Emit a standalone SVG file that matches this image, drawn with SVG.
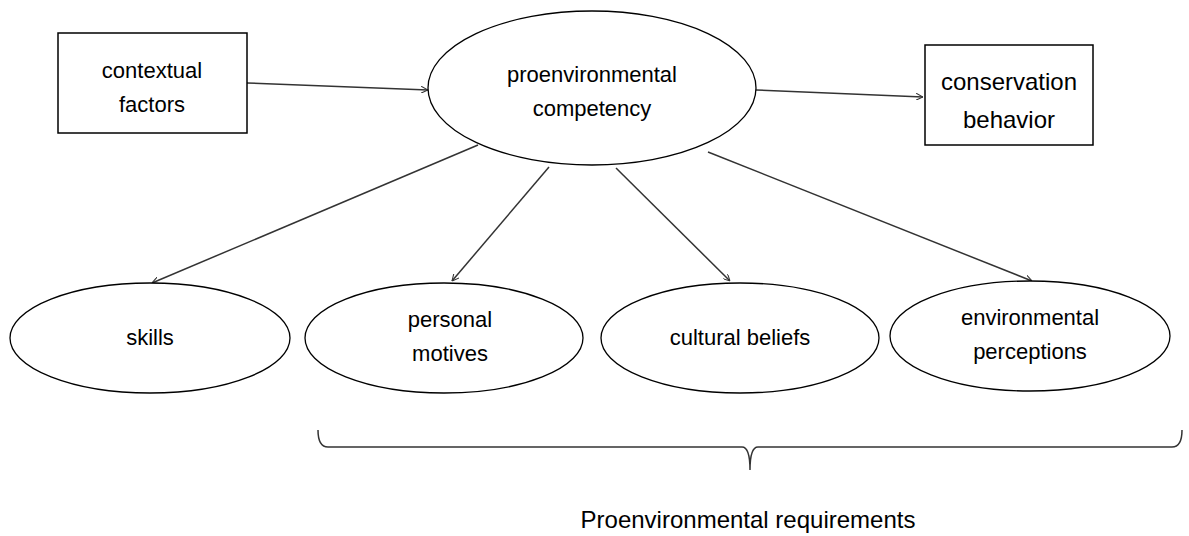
<svg xmlns="http://www.w3.org/2000/svg" width="1189" height="536" viewBox="0 0 1189 536">
<defs>
<style>
.box{fill:#fff;stroke:#000;stroke-width:1.5}
.ell{fill:#fff;stroke:#000;stroke-width:1.3}
.t{font-family:"Liberation Sans",Arial,sans-serif;font-size:22px;fill:#000;text-anchor:middle}
.c{stroke:#333;stroke-width:1.5;fill:none;marker-end:url(#ah)}
</style>
<marker id="ah" viewBox="0 0 10 10" refX="10" refY="5" markerWidth="7" markerHeight="7" orient="auto" markerUnits="userSpaceOnUse">
<path d="M0,0 L10,5 L0,10" fill="none" stroke="#333" stroke-width="1.5"/>
</marker>
</defs>
<rect width="1189" height="536" fill="#fff"/>
<g id="connectors">
<line class="c" x1="247" y1="83" x2="428" y2="90"/>
<line class="c" x1="756" y1="90" x2="923" y2="97"/>
<line class="c" x1="478" y1="145" x2="152" y2="283"/>
<line class="c" x1="549" y1="167" x2="452" y2="281"/>
<line class="c" x1="616" y1="168" x2="730" y2="281"/>
<line class="c" x1="708" y1="152" x2="1032" y2="281"/>
</g>
<g id="contextual-factors">
<rect class="box" x="58" y="33" width="189" height="100"/>
<text class="t" x="152" y="78">contextual</text>
<text class="t" x="152" y="112">factors</text>
</g>
<g id="proenvironmental-competency">
<ellipse class="ell" cx="592" cy="88" rx="164" ry="77"/>
<text class="t" x="592" y="82">proenvironmental</text>
<text class="t" x="592" y="116">competency</text>
</g>
<g id="conservation-behavior">
<rect class="box" x="925" y="45" width="168" height="100"/>
<text class="t" x="1009" y="90" style="font-size:24px">conservation</text>
<text class="t" x="1009" y="128" style="font-size:24px">behavior</text>
</g>
<g id="skills">
<ellipse class="ell" cx="150" cy="338" rx="140" ry="55"/>
<text class="t" x="150" y="345">skills</text>
</g>
<g id="personal-motives">
<ellipse class="ell" cx="444" cy="338" rx="139" ry="55"/>
<text class="t" x="450" y="327">personal</text>
<text class="t" x="450" y="361">motives</text>
</g>
<g id="cultural-beliefs">
<ellipse class="ell" cx="740" cy="338" rx="139" ry="55"/>
<text class="t" x="740" y="345">cultural beliefs</text>
</g>
<g id="environmental-perceptions">
<ellipse class="ell" cx="1030" cy="336" rx="140" ry="55"/>
<text class="t" x="1030" y="325">environmental</text>
<text class="t" x="1030" y="359">perceptions</text>
</g>
<g id="brace">
<path d="M318,430 Q318,447 328,447 L742,447 Q750,447 750,470 Q750,447 758,447 L1172,447 Q1182,447 1182,430" fill="none" stroke="#333" stroke-width="1.5"/>
<text class="t" x="748" y="528" style="font-size:24px">Proenvironmental requirements</text>
</g>
</svg>
